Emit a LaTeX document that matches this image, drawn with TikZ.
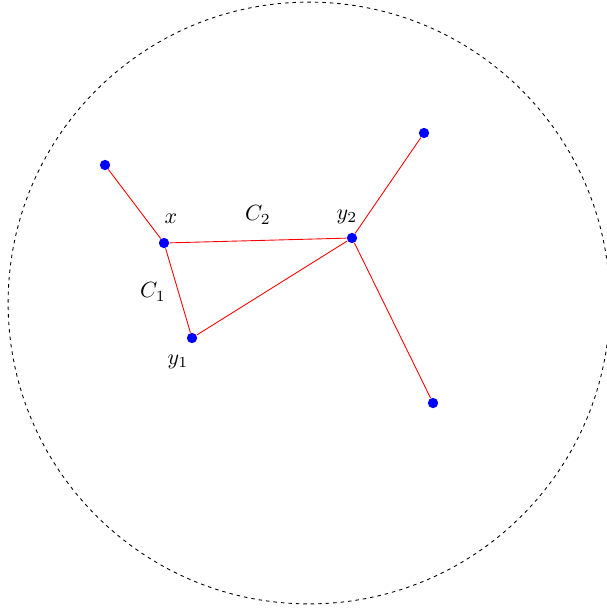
\documentclass[tikz,border=0pt]{standalone}
\usetikzlibrary{positioning}

\begin{document}
\begin{tikzpicture}[x=0.455pt, y=-0.455pt,
  vertex/.style={circle, fill=blue, inner sep=0pt, minimum size=4.7pt},
  edge/.style={red, line width=0.4pt}
]
  \useasboundingbox (0,0) rectangle (607,612);
  \clip (0,0) rectangle (607,612);
  \coordinate (o) at (309,303);
  \draw[dash pattern=on 1.6pt off 1.8pt] (o) circle[radius=136.9pt];

  \node[vertex] (x) at (164,243) {};
  \node[vertex] (y1) at (192,338) {};
  \node[vertex] (y2) at (352,238) {};
  \node[vertex] (a) at (105,165) {};
  \node[vertex] (b) at (424,133) {};
  \node[vertex] (c) at (433,403) {};

  \draw[edge] (a) -- (x);
  \draw[edge] (x) -- (y2);
  \draw[edge] (x) -- (y1);
  \draw[edge] (y1) -- (y2);
  \draw[edge] (y2) -- (b);
  \draw[edge] (y2) -- (c);

  \node (lx) at (171,219) {$x$};
  \node (ly1) at (178,362) {$y_1$};
  \node (ly2) at (347,217) {$y_2$};
  \node (lc1) at (153,292) {$C_1$};
  \node (lc2) at (258,215) {$C_2$};
\end{tikzpicture}
\end{document}
